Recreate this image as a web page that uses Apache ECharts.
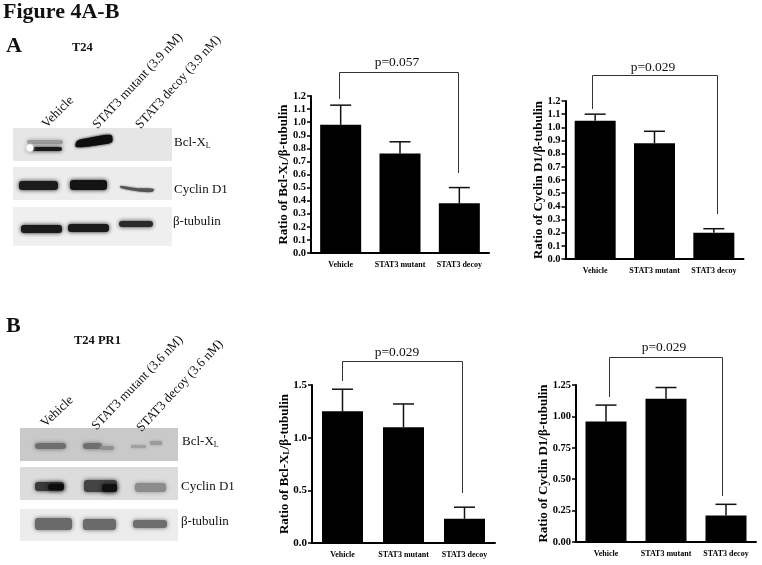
<!DOCTYPE html>
<html><head><meta charset="utf-8">
<style>html,body{margin:0;padding:0;background:#fff}#c{width:762px;height:565px}</style>
<script src="https://cdn.jsdelivr.net/npm/echarts@6/dist/echarts.min.js"></script>
</head><body><div id="c"></div>
<script>
const categories = ['Vehicle','STAT3 mutant','STAT3 decoy'];
const a1Means = [0.98,0.76,0.38];
const a1Tops  = [1.13,0.85,0.50];
const a2Means = [1.05,0.88,0.20];
const a2Tops  = [1.10,0.97,0.23];
const b1Means = [1.25,1.10,0.23];
const b1Tops  = [1.46,1.32,0.34];
const b2Means = [0.96,1.14,0.21];
const b2Tops  = [1.09,1.23,0.30];

const SERIF = '"Liberation Serif","Times New Roman",serif';
const panels = [
 {means:a1Means,tops:a1Tops,left:311,top:96,w:178,h:157,max:1.2,step:0.1,dec:1,name:'{b|Ratio of Bcl-X}{s|L}{b|/β-tubulin}',gap:21,tickFs:10.5},
 {means:a2Means,tops:a2Tops,left:565.5,top:101,w:178,h:158,max:1.2,step:0.1,dec:1,name:'{b|Ratio of Cyclin D1/β-tubulin}',gap:20,tickFs:10.5},
 {means:b1Means,tops:b1Tops,left:312,top:385,w:183,h:158,max:1.5,step:0.5,dec:1,name:'{b|Ratio of Bcl-X}{s|L}{b|/β-tubulin}',gap:21,tickFs:11},
 {means:b2Means,tops:b2Tops,left:576,top:385,w:180,h:157,max:1.25,step:0.25,dec:2,name:'{b|Ratio of Cyclin D1/β-tubulin}',gap:26,tickFs:10.5}
];
const grid=[],xAxis=[],yAxis=[],series=[];
panels.forEach((p,i)=>{
  grid.push({left:p.left,top:p.top,width:p.w,height:p.h});
  xAxis.push({type:'category',gridIndex:i,data:categories,
    axisLine:{lineStyle:{color:'#000',width:2}},
    axisTick:{alignWithLabel:true,length:4,lineStyle:{color:'#000',width:1.5}},
    axisLabel:{color:'#000',fontFamily:SERIF,fontWeight:'bold',fontSize:8,margin:8,interval:0}});
  yAxis.push({type:'value',gridIndex:i,min:0,max:p.max,interval:p.step,
    name:p.name,nameLocation:'middle',nameGap:p.gap,nameRotate:90,nameMoveOverlap:false,
    nameTextStyle:{rich:{b:{fontFamily:SERIF,fontWeight:'bold',fontSize:13,color:'#000'},
                         s:{fontFamily:SERIF,fontWeight:'bold',fontSize:8,color:'#000',verticalAlign:'bottom',padding:[5,0,0,0]}}},
    axisLine:{show:true,lineStyle:{color:'#000',width:2}},
    axisTick:{show:true,length:4,lineStyle:{color:'#000',width:1.5}},
    splitLine:{show:false},
    axisLabel:{color:'#000',fontFamily:SERIF,fontWeight:'bold',fontSize:p.tickFs,margin:5,
      formatter:v=>v.toFixed(p.dec)}});
  series.push({type:'bar',xAxisIndex:i,yAxisIndex:i,data:p.means,barWidth:41,
    itemStyle:{color:'#000'},silent:true,z:3});
  series.push({type:'custom',xAxisIndex:i,yAxisIndex:i,clip:false,z:2,silent:true,
    data:p.tops.map((t,k)=>[k,p.means[k],t]),
    encode:{x:0,y:[1,2]},
    renderItem:(params,api)=>{
      const lo=api.coord([api.value(0),api.value(1)]);
      const hi=api.coord([api.value(0),api.value(2)]);
      const st={stroke:'#111',lineWidth:1.5};
      return {type:'group',children:[
        {type:'line',shape:{x1:lo[0],y1:lo[1],x2:hi[0],y2:hi[1]},style:st},
        {type:'line',shape:{x1:lo[0]-10.5,y1:hi[1],x2:lo[0]+10.5,y2:hi[1]},style:st}
      ]};
    }});
});

const g=[];
const txt=(x,y,text,o={})=>g.push({type:'text',x,y,rotation:(o.rot||0)*Math.PI/180,silent:true,z:10,
  style:{text,fill:'#111',fontFamily:SERIF,fontSize:o.fs||13,fontWeight:o.bold?'bold':'normal',
    align:o.align||'left',verticalAlign:'middle',
    rich:{a:{fontFamily:SERIF,fontSize:o.fs||13,fill:'#111'},s:{fontFamily:SERIF,fontSize:8,fill:'#111',padding:[5,0,0,0]}}}});
const box=(x,y,w,h,c)=>g.push({type:'rect',shape:{x,y,width:w,height:h},style:{fill:c},silent:true,z:5});
const band=(x,y,w,h,c,b=4,r=3)=>g.push({type:'rect',shape:{x,y,width:w,height:h,r},
  style:{fill:c,shadowBlur:b,shadowColor:c},silent:true,z:6});
const poly=(points,c,b=4)=>g.push({type:'polygon',shape:{points,smooth:0.3},
  style:{fill:c,shadowBlur:b,shadowColor:c},silent:true,z:6});
const bracket=(x1,yl,yt,x2,yr,label,tx,ty)=>{
  g.push({type:'polyline',shape:{points:[[x1,yl],[x1,yt],[x2,yt],[x2,yr]]},style:{stroke:'#333',lineWidth:1,fill:null},silent:true,z:8});
  txt(tx,ty,label,{fs:13.5,align:'center'});
};
txt(3,12,'Figure 4A-B',{fs:22,bold:true});
txt(6,46,'A',{fs:22,bold:true});
txt(72,48,'T24',{fs:12.5,bold:true});
txt(6,326,'B',{fs:22,bold:true});
txt(74,341,'T24 PR1',{fs:12.5,bold:true});
txt(44,126,'Vehicle',{rot:45});
txt(95,127,'STAT3 mutant (3.9 nM)',{rot:47});
txt(138,127,'STAT3 decoy (3.9 nM)',{rot:48});
txt(43,425,'Vehicle',{rot:43});
txt(94,428,'STAT3 mutant (3.6 nM)',{rot:46});
txt(139,430,'STAT3 decoy (3.6 nM)',{rot:47});
// blots A
box(13,128,159,33,'#e6e6e6'); box(13,167,159,33,'#ececec'); box(13,207,159,39,'#efefef');
band(27,140,36,4,'#9a9a9a'); band(27,147,35,4,'#1a1a1a');
poly([[76,147],[77,141],[88,138],[111,135],[112,142],[100,145]],'#0e0e0e',3);
g.push({type:'circle',shape:{cx:30,cy:148,r:3.5},style:{fill:'#fff',shadowBlur:3,shadowColor:'#fff'},silent:true,z:7});
band(19,181,39,9,'#1c1c1c'); band(70,180,37,10,'#141414');
poly([[120,186],[136,188],[154,189],[152,192],[136,191],[121,188]],'#555',2);
band(21,225,41,8,'#1a1a1a'); band(68,224,41,8,'#1a1a1a'); band(119,221,34,6,'#2a2a2a');
// blots B
box(20,428,158,33,'#c9c9c9'); box(20,467,158,33,'#dcdcdc'); box(20,509,158,32,'#ececec');
band(35,443,31,6,'#6e6e6e'); band(83,443,19,6,'#6e6e6e'); band(100,446,14,4,'#909090');
band(131,445,15,3,'#a0a0a0',3,1); band(150,441,12,4,'#9c9c9c',3,1);
band(35,482,29,9,'#3a3a3a'); band(48,484,16,6,'#0c0c0c',5); band(84,480,33,12,'#444'); band(102,484,15,8,'#111',5);
band(135,483,31,9,'#8c8c8c');
band(35,518,37,12,'#6a6a6a'); band(83,519,33,11,'#6a6a6a'); band(133,520,34,8,'#6e6e6e');
// blot labels
txt(174,143,'{a|Bcl-X}{s|L}'); txt(174,190,'Cyclin D1'); txt(173,222,'β-tubulin');
txt(182,442,'{a|Bcl-X}{s|L}'); txt(181,487,'Cyclin D1'); txt(181,522,'β-tubulin');
// brackets
bracket(339.5,99,72.5,458.5,173,'p=0.057',397,62);
bracket(592.5,109,75.5,717.5,214,'p=0.029',653,67);
bracket(342.5,381,361.5,462.5,493,'p=0.029',397,352);
bracket(609.5,397,357.5,722.5,496,'p=0.029',664,347);

const chart=echarts.init(document.getElementById('c'),null,{renderer:'canvas'});
chart.setOption({animation:false,backgroundColor:'#fff',grid,xAxis,yAxis,series,graphic:g,tooltip:{show:false}});
</script></body></html>
